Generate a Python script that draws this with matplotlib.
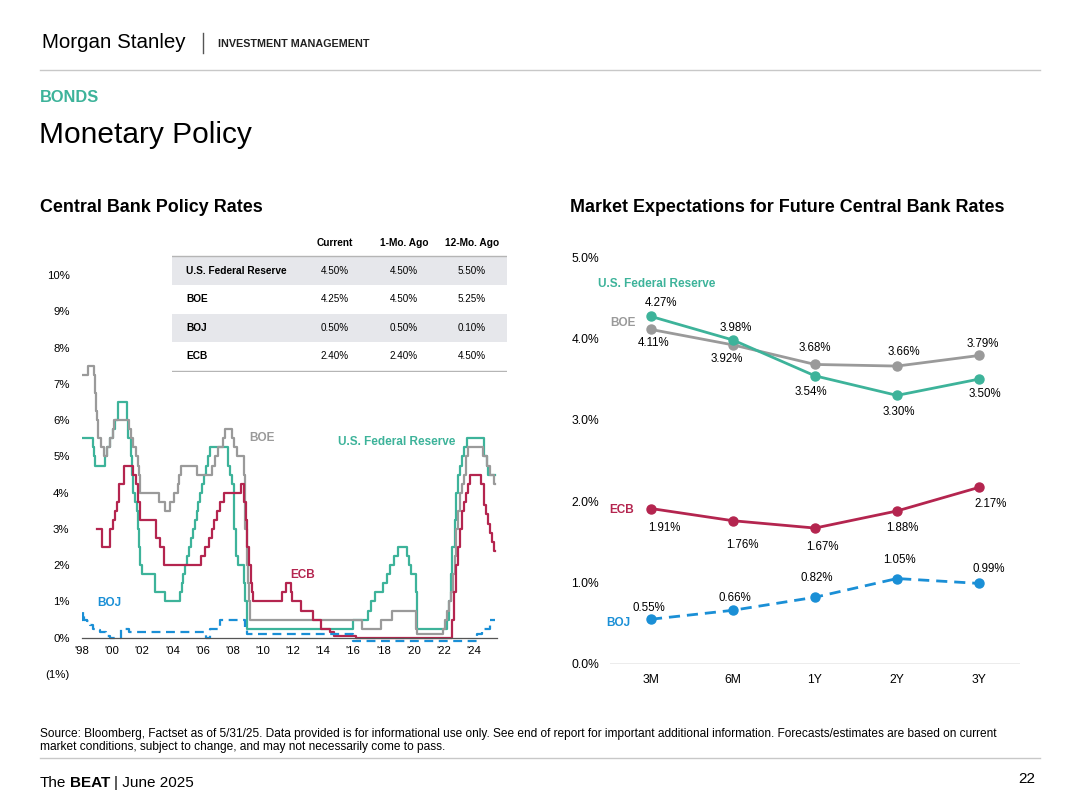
import matplotlib.pyplot as plt
from matplotlib.lines import Line2D
from matplotlib.patches import Rectangle

plt.rcParams['font.family'] = ['Liberation Sans', 'DejaVu Sans']

TEAL = '#3db39a'
GRAY = '#9a9a9a'
CRIMSON = '#b4254f'
BLUE = '#1a8fd6'

# --- left chart: policy rate steps (decimal year, rate after the change) ---
fed_dates = [1998.0, 1998.75, 1998.79, 1998.88, 1999.5, 1999.65, 1999.88, 2000.08, 2000.22, 2000.38,
             2001.0, 2001.08, 2001.22, 2001.3, 2001.38, 2001.49, 2001.64, 2001.71, 2001.76, 2001.85,
             2001.95, 2002.85, 2003.48, 2004.49, 2004.61, 2004.72, 2004.86, 2004.95, 2005.09, 2005.22,
             2005.34, 2005.5, 2005.61, 2005.72, 2005.85, 2005.95, 2006.08, 2006.24, 2006.36, 2006.49,
             2007.72, 2007.83, 2007.95, 2008.06, 2008.08, 2008.21, 2008.33, 2008.77, 2008.83, 2008.96,
             2015.96, 2016.96, 2017.21, 2017.46, 2017.96, 2018.21, 2018.46, 2018.73, 2018.97, 2019.58,
             2019.72, 2019.83, 2020.17, 2020.21, 2022.21, 2022.34, 2022.46, 2022.57, 2022.72, 2022.84,
             2022.96, 2023.09, 2023.21, 2023.34, 2023.57, 2024.71, 2024.85, 2024.96, 2025.42]
fed_rates = [5.5, 5.25, 5.0, 4.75, 5.0, 5.25, 5.5, 5.75, 6.0, 6.5,
             6.0, 5.5, 5.0, 4.5, 4.0, 3.75, 3.5, 3.0, 2.5, 2.0,
             1.75, 1.25, 1.0, 1.25, 1.5, 1.75, 2.0, 2.25, 2.5, 2.75,
             3.0, 3.25, 3.5, 3.75, 4.0, 4.25, 4.5, 4.75, 5.0, 5.25,
             4.75, 4.5, 4.25, 3.5, 3.0, 2.25, 2.0, 1.5, 1.0, 0.25,
             0.5, 0.75, 1.0, 1.25, 1.5, 1.75, 2.0, 2.25, 2.5, 2.25,
             2.0, 1.75, 1.25, 0.25, 0.5, 1.0, 1.75, 2.5, 3.25, 4.0,
             4.5, 4.75, 5.0, 5.25, 5.5, 5.0, 4.75, 4.5, 4.5]

boe_dates = [1998.0, 1998.42, 1998.77, 1998.85, 1998.94, 1999.02, 1999.09, 1999.27, 1999.44, 1999.69,
             1999.85, 2000.04, 2000.12, 2001.11, 2001.26, 2001.36, 2001.59, 2001.71, 2001.76, 2001.86,
             2003.1, 2003.52, 2003.85, 2004.1, 2004.35, 2004.44, 2004.6, 2005.6, 2006.6, 2006.85,
             2007.03, 2007.35, 2007.51, 2007.93, 2008.1, 2008.27, 2008.77, 2008.85, 2008.93, 2009.02,
             2009.1, 2009.18, 2016.6, 2017.84, 2018.59, 2020.19, 2020.22, 2021.96, 2022.09, 2022.21,
             2022.34, 2022.46, 2022.6, 2022.72, 2022.84, 2022.96, 2023.09, 2023.22, 2023.36, 2023.47,
             2023.59, 2024.59, 2024.85, 2025.1, 2025.36, 2025.42]
boe_rates = [7.25, 7.5, 7.25, 6.75, 6.25, 6.0, 5.5, 5.25, 5.0, 5.25,
             5.5, 5.75, 6.0, 5.75, 5.5, 5.25, 5.0, 4.75, 4.5, 4.0,
             3.75, 3.5, 3.75, 4.0, 4.25, 4.5, 4.75, 4.5, 4.75, 5.0,
             5.25, 5.5, 5.75, 5.5, 5.25, 5.0, 4.5, 3.0, 2.0, 1.5,
             1.0, 0.5, 0.25, 0.5, 0.75, 0.25, 0.1, 0.25, 0.5, 0.75,
             1.0, 1.25, 1.75, 2.25, 3.0, 3.5, 4.0, 4.25, 4.5, 5.0,
             5.25, 5.0, 4.75, 4.5, 4.25, 4.25]

ecb_dates = [1999.0, 1999.3, 1999.84, 2000.09, 2000.21, 2000.32, 2000.44, 2000.77, 2001.37, 2001.58,
             2001.71, 2001.86, 2002.93, 2003.19, 2003.43, 2005.93, 2006.19, 2006.45, 2006.6, 2006.78,
             2006.95, 2007.19, 2007.45, 2008.52, 2008.77, 2008.86, 2008.94, 2009.05, 2009.19, 2009.28,
             2009.36, 2011.28, 2011.53, 2011.85, 2011.95, 2012.52, 2013.36, 2013.86, 2014.45, 2014.7,
             2016.2, 2022.57, 2022.71, 2022.84, 2022.97, 2023.1, 2023.22, 2023.36, 2023.47, 2023.6,
             2023.72, 2024.46, 2024.71, 2024.8, 2024.97, 2025.1, 2025.19, 2025.31, 2025.42]
ecb_rates = [3.0, 2.5, 3.0, 3.25, 3.5, 3.75, 4.25, 4.75, 4.5, 4.25,
             3.75, 3.25, 2.75, 2.5, 2.0, 2.25, 2.5, 2.75, 3.0, 3.25,
             3.5, 3.75, 4.0, 4.25, 3.75, 3.25, 2.5, 2.0, 1.5, 1.25,
             1.0, 1.25, 1.5, 1.25, 1.0, 0.75, 0.5, 0.25, 0.15, 0.05,
             0.0, 0.5, 1.25, 2.0, 2.5, 3.0, 3.5, 3.75, 4.0, 4.25,
             4.5, 4.25, 3.65, 3.4, 3.15, 2.9, 2.65, 2.4, 2.4]

boj_dates = [1998.0, 1998.05, 1998.1, 1998.3, 1998.55, 1998.7, 1998.9, 1999.2, 1999.6, 1999.85,
             2000.6, 2001.1, 2006.2, 2006.5, 2007.15, 2008.8, 2008.95, 2016.0, 2024.2, 2024.55,
             2025.05, 2025.42]
boj_rates = [0.5, 0.7, 0.5, 0.45, 0.35, 0.25, 0.2, 0.15, 0.05, 0.0,
             0.25, 0.15, 0.0, 0.25, 0.5, 0.3, 0.1, -0.1, 0.1, 0.25,
             0.5, 0.5]

year_ticks = list(range(1998, 2025, 2))
year_labels = ["'98", "'00", "'02", "'04", "'06", "'08", "'10", "'12", "'14", "'16", "'18", "'20", "'22", "'24"]
rate_ticks = list(range(-1, 11))
rate_labels = ['(1%)'] + [f'{v}%' for v in range(0, 11)]

# --- table ---
table_cols = ['Current', '1-Mo. Ago', '12-Mo. Ago']
table_rows = ['U.S. Federal Reserve', 'BOE', 'BOJ', 'ECB']
table_vals = [['4.50%', '4.50%', '5.50%'],
              ['4.25%', '4.50%', '5.25%'],
              ['0.50%', '0.50%', '0.10%'],
              ['2.40%', '2.40%', '4.50%']]

# --- right chart: market expectations ---
horizons = ['3M', '6M', '1Y', '2Y', '3Y']
fed_exp = [4.27, 3.98, 3.54, 3.30, 3.50]
boe_exp = [4.11, 3.92, 3.68, 3.66, 3.79]
ecb_exp = [1.91, 1.76, 1.67, 1.88, 2.17]
boj_exp = [0.55, 0.66, 0.82, 1.05, 0.99]
exp_ticks = [0, 1, 2, 3, 4, 5]

W, H = 1080, 810
fig = plt.figure(figsize=(W / 100, H / 100), dpi=100)


def fx(x):
    return x / W


def fy(y):
    return 1 - y / H


# header
fig.text(fx(42), fy(43), 'Morgan Stanley', fontsize=14.8, va='center')
fig.add_artist(Line2D([fx(203), fx(203)], [fy(33), fy(53)], color='#555555', lw=1))
fig.text(fx(218), fy(44), 'INVESTMENT MANAGEMENT', fontsize=7.75, fontweight='bold', va='center', color='#222222')
fig.add_artist(Line2D([fx(40), fx(1040)], [fy(70), fy(70)], color='#c8c8c8', lw=1))
fig.text(fx(40), fy(97), 'BONDS', fontsize=11.8, fontweight='bold', color=TEAL, va='center')
fig.text(fx(39), fy(135), 'Monetary Policy', fontsize=21.5, va='center')
fig.text(fx(40), fy(207), 'Central Bank Policy Rates', fontsize=12.9, fontweight='bold', va='center')
fig.text(fx(570), fy(207), 'Market Expectations for Future Central Bank Rates', fontsize=12.9,
         fontweight='bold', va='center')

# left chart
ax1 = fig.add_axes([fx(82), fy(674), (497 - 82) / W, (674 - 257) / H])
ax1.step(fed_dates, fed_rates, where='post', color=TEAL, lw=1.6)
ax1.step(boe_dates, boe_rates, where='post', color=GRAY, lw=1.6)
ax1.step(ecb_dates, ecb_rates, where='post', color=CRIMSON, lw=1.6)
ax1.step(boj_dates, boj_rates, where='post', color=BLUE, lw=1.6, dashes=(4, 2.5))
ax1.set_xlim(1998, 2025.54)
ax1.set_ylim(-1, 10.5)
for s in ['top', 'right', 'left']:
    ax1.spines[s].set_visible(False)
ax1.spines['bottom'].set_position(('data', 0))
ax1.spines['bottom'].set_color('#555555')
ax1.spines['bottom'].set_linewidth(0.9)
ax1.set_xticks(year_ticks)
ax1.set_xticklabels(year_labels)
ax1.set_yticks(rate_ticks)
ax1.set_yticklabels(rate_labels)
ax1.tick_params(axis='x', length=0, pad=6, labelsize=8.2)
ax1.tick_params(axis='y', length=0, pad=9, labelsize=8.2)
ax1.set_facecolor('none')
ax1.text(2009.1, 5.5, 'BOE', color=GRAY, fontsize=8.5, fontweight='bold', va='center')
ax1.text(2015.0, 5.4, 'U.S. Federal Reserve', color=TEAL, fontsize=8.5, fontweight='bold', va='center')
ax1.text(2011.8, 1.74, 'ECB', color=CRIMSON, fontsize=8.5, fontweight='bold', va='center')
ax1.text(1999.0, 0.96, 'BOJ', color=BLUE, fontsize=8.5, fontweight='bold', va='center')

# table over the left chart
tab = fig.add_axes([fx(172), fy(372), 335 / W, 142 / H])
tab.set_xlim(172, 507)
tab.set_ylim(372, 230)
tab.axis('off')
col_x = [335, 404, 472]
for cx, c in zip(col_x, table_cols):
    tab.text(cx, 243, c, ha='center', va='center', fontsize=7.3, fontweight='bold')
tab.plot([172, 507], [256, 256], color='#b5b5b5', lw=1)
for i, (name, vals) in enumerate(zip(table_rows, table_vals)):
    yc = 270.5 + i * 28.6
    if i % 2 == 0:
        tab.add_patch(Rectangle((172, yc - 14), 335, 28.4, color='#e6e7eb', lw=0))
    tab.text(186, yc, name, va='center', fontsize=7.3, fontweight='bold')
    for cx, v in zip(col_x, vals):
        tab.text(cx, yc, v, ha='center', va='center', fontsize=7.1)
tab.plot([172, 507], [371, 371], color='#b5b5b5', lw=1)

# right chart
ax2 = fig.add_axes([fx(610), fy(664), 410 / W, 407 / H])
xs = list(range(len(horizons)))
ax2.plot(xs, boe_exp, color=GRAY, lw=2, marker='o', ms=6.5)
ax2.plot(xs, fed_exp, color=TEAL, lw=2, marker='o', ms=6.5)
ax2.plot(xs, ecb_exp, color=CRIMSON, lw=2, marker='o', ms=6.5)
ax2.plot(xs, boj_exp, color=BLUE, lw=2, marker='o', ms=6.5, dashes=(4, 2.5))
ax2.axhline(0, color='#a0a0a0', lw=1)
ax2.set_xlim(-0.5, 4.5)
ax2.set_ylim(0, 5)
for s in ax2.spines.values():
    s.set_visible(False)
ax2.set_xticks(xs)
ax2.set_xticklabels(horizons)
ax2.set_yticks(exp_ticks)
ax2.set_yticklabels([f'{v:.1f}%' for v in exp_ticks])
ax2.tick_params(axis='x', length=0, pad=7, labelsize=8.7)
ax2.tick_params(axis='y', length=0, pad=8, labelsize=8.7)
ax2.set_facecolor('none')

# value label offsets in pixels (dx, dy; dy positive = down)
label_offsets = [
    (fed_exp, [(10, -13), (3, -12), (-4, 16), (2, 17), (6, 15)]),
    (boe_exp, [(3, 14), (-6, 14), (0, -16), (7, -14), (4, -11)]),
    (ecb_exp, [(13, 19), (9, 24), (7, 19), (5, 17), (12, 17)]),
    (boj_exp, [(-2, -11), (2, -12), (2, -19), (2, -19), (10, -14)]),
]
for vals, offs in label_offsets:
    for x, v, (dx, dy) in zip(xs, vals, offs):
        ax2.annotate(f'{v:.2f}%', (x, v), xytext=(dx * 0.72, -dy * 0.72), textcoords='offset points',
                     ha='center', va='center', fontsize=8.3, annotation_clip=False)

ax2.text(-0.646, 4.67, 'U.S. Federal Reserve', color=TEAL, fontsize=8.5, fontweight='bold', va='center')
ax2.text(-0.5, 4.19, 'BOE', color=GRAY, fontsize=8.5, fontweight='bold', va='center')
ax2.text(-0.51, 1.89, 'ECB', color=CRIMSON, fontsize=8.5, fontweight='bold', va='center')
ax2.text(-0.54, 0.50, 'BOJ', color=BLUE, fontsize=8.5, fontweight='bold', va='center')

# footer
fig.text(fx(40), fy(734), 'Source: Bloomberg, Factset as of 5/31/25. Data provided is for informational use only. '
         'See end of report for important additional information. Forecasts/estimates are based on current',
         fontsize=8.6, va='center')
fig.text(fx(40), fy(747), 'market conditions, subject to change, and may not necessarily come to pass.',
         fontsize=8.6, va='center')
fig.add_artist(Line2D([fx(40), fx(1040)], [fy(758), fy(758)], color='#c8c8c8', lw=1))
fig.text(fx(40), fy(783), 'The', fontsize=11, va='center')
fig.text(fx(70), fy(783), 'BEAT', fontsize=11, fontweight='bold', va='center')
fig.text(fx(114), fy(783), '| June 2025', fontsize=11, va='center')
fig.text(fx(1035), fy(779), '22', fontsize=11, va='center', ha='right')

fig.savefig('out.png', dpi=100)
